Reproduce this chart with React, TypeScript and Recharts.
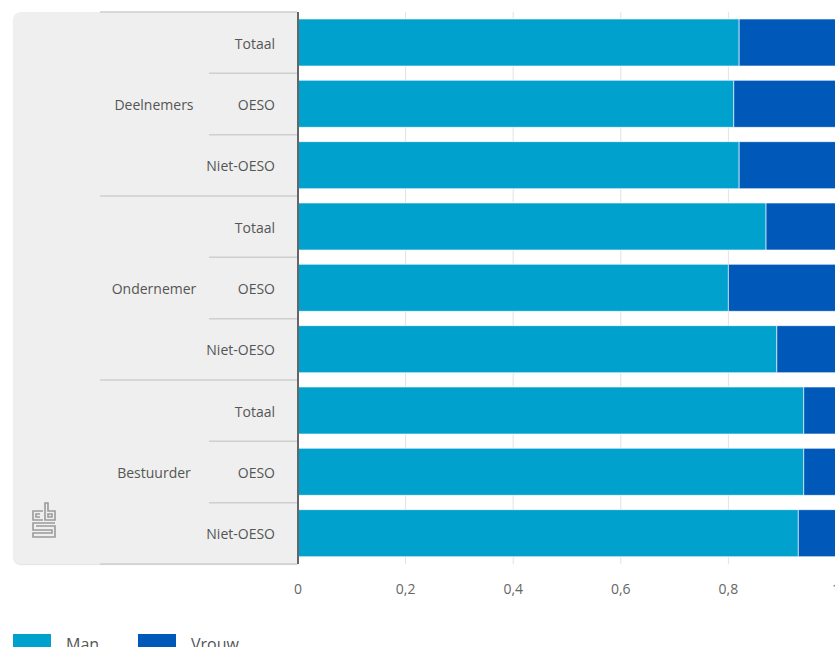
import React from 'react';
import { BarChart, Bar, XAxis, YAxis, CartesianGrid } from 'recharts';

const groups = ['Deelnemers', 'Ondernemer', 'Bestuurder'];
const subgroups = ['Totaal', 'OESO', 'Niet-OESO'];
const man = [0.82, 0.81, 0.82, 0.87, 0.8, 0.89, 0.94, 0.94, 0.93];
const vrouw = [0.18, 0.19, 0.18, 0.13, 0.2, 0.11, 0.06, 0.06, 0.07];
const xTicks = [0, 0.2, 0.4, 0.6, 0.8, 1];

const MAN_COLOR = '#00a1cd';
const VROUW_COLOR = '#0058b8';
const FONT = '"Open Sans", "Noto Sans", sans-serif';

const TOP = 12;
const PLOT_H = 552;
const AXIS_X = 298;
const X_AXIS_H = 40;
const BAND = PLOT_H / man.length;

const chartData = man.map((m, i) => ({
  key: groups[Math.floor(i / subgroups.length)] + '|' + subgroups[i % subgroups.length],
  group: groups[Math.floor(i / subgroups.length)],
  sub: subgroups[i % subgroups.length],
  man: m,
  vrouw: vrouw[i],
}));

const CategoryTick = (props: any) => {
  const { y, index } = props;
  const row = chartData[index];
  if (!row) return null;
  const pos = index % subgroups.length;
  const lastInGroup = pos === subgroups.length - 1;
  const lineColor = '#cfcfcf';
  return (
    <g>
      {index === 0 && (
        <line x1={100} x2={AXIS_X - 1} y1={y - BAND / 2} y2={y - BAND / 2} stroke={lineColor} strokeWidth={1.5} />
      )}
      <line
        x1={lastInGroup ? 100 : 209}
        x2={AXIS_X - 1}
        y1={y + BAND / 2}
        y2={y + BAND / 2}
        stroke={lineColor}
        strokeWidth={1.5}
      />
      <text x={275} y={y} dy="0.42em" textAnchor="end" fill="#555" fontSize={14} fontFamily={FONT}>
        {row.sub}
      </text>
      {pos === 1 && (
        <text x={154} y={y} dy="0.42em" textAnchor="middle" fill="#555" fontSize={14} fontFamily={FONT}>
          {row.group}
        </text>
      )}
    </g>
  );
};

const CbsLogo = () => (
  <svg width={30} height={40} style={{ position: 'absolute', left: 29, top: 500 }}>
    <g fill="none" stroke="#9a9a9a" strokeWidth={1.6}>
      <path d="M14 11 H4 V20 H14" />
      <path d="M11 14 H7 V17 H11" />
      <path d="M16 3 V20 H26 V11 H19 V3 Z" />
      <path d="M19 14 H23 V17 H19 Z" />
      <path d="M26 23 H4 V30 H23 V33 H4 V37 H26 V26 H7" />
    </g>
  </svg>
);

export default function App() {
  return (
    <div style={{ position: 'absolute', left: 0, top: 0, width: 835, height: 647, overflow: 'hidden', background: '#fff' }}>
      <div
        style={{
          position: 'absolute',
          left: 13,
          top: TOP,
          width: AXIS_X - 13,
          height: PLOT_H,
          background: '#efefef',
          borderTopLeftRadius: 8,
          borderBottomLeftRadius: 8,
          boxShadow: '0 1px 1px rgba(0,0,0,0.12)',
        }}
      />
      <CbsLogo />
      <div style={{ position: 'absolute', left: 0, top: 0 }}>
        <BarChart
          width={866}
          height={TOP + PLOT_H + X_AXIS_H}
          data={chartData}
          layout="vertical"
          margin={{ top: TOP, right: 30, left: 0, bottom: 0 }}
        >
          <CartesianGrid horizontal={false} stroke="#e2e2e2" strokeWidth={1} />
          <XAxis
            type="number"
            domain={[0, 1]}
            ticks={xTicks}
            interval={0}
            axisLine={false}
            tickLine={false}
            tickSize={6}
            tickMargin={14}
            height={X_AXIS_H}
            tick={{ fill: '#666', fontSize: 14, fontFamily: FONT }}
            tickFormatter={(v: number) => String(v).replace('.', ',')}
          />
          <YAxis
            type="category"
            dataKey="key"
            width={AXIS_X}
            interval={0}
            tickLine={false}
            axisLine={{ stroke: '#666', strokeWidth: 2 }}
            tick={<CategoryTick />}
          />
          <Bar dataKey="man" name="Man" stackId="a" fill={MAN_COLOR} barSize={47} stroke="#ffffff" strokeOpacity={0.6} strokeWidth={1} isAnimationActive={false} />
          <Bar dataKey="vrouw" name="Vrouw" stackId="a" fill={VROUW_COLOR} barSize={47} stroke="#ffffff" strokeOpacity={0.6} strokeWidth={1} isAnimationActive={false} />
        </BarChart>
      </div>
      <div style={{ position: 'absolute', left: 13, top: 634, display: 'flex', alignItems: 'flex-start', fontFamily: FONT, fontSize: 16, color: '#555' }}>
        <div style={{ width: 38, height: 20, background: MAN_COLOR }} />
        <div style={{ marginLeft: 15, lineHeight: '20px', width: 72 }}>Man</div>
        <div style={{ width: 38, height: 20, background: VROUW_COLOR }} />
        <div style={{ marginLeft: 15, lineHeight: '20px' }}>Vrouw</div>
      </div>
    </div>
  );
}
